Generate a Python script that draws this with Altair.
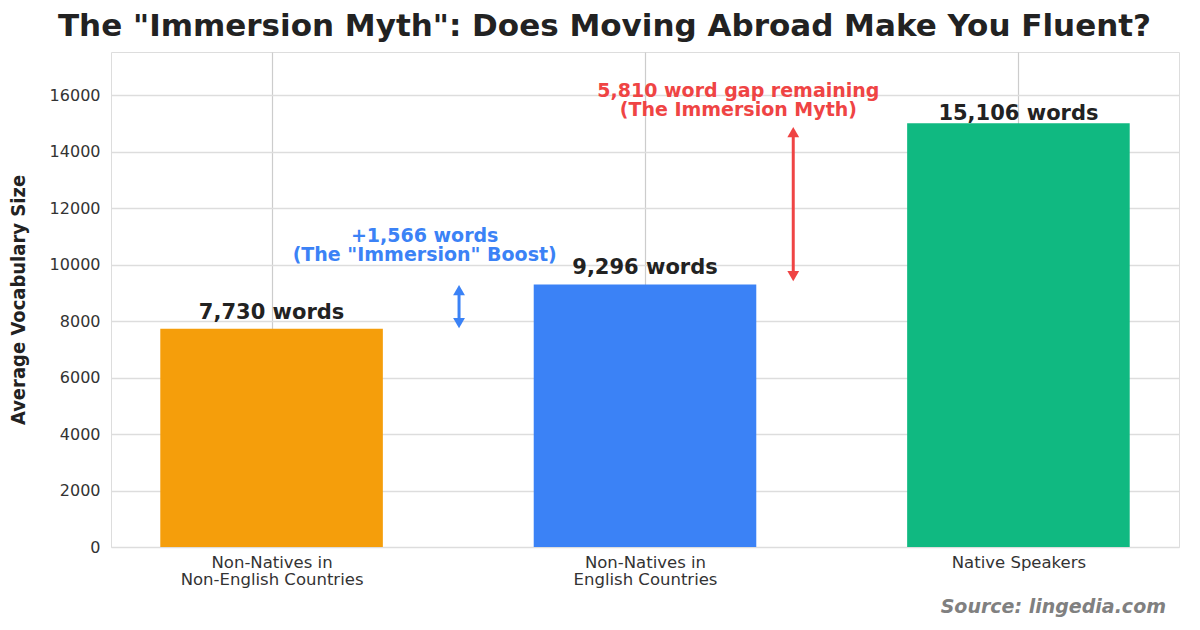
import altair as alt
import pandas as pd

positions = [0, 1, 2]
values = [7730, 9296, 15000]
label_y = [7730, 9296, 14752]
colors = ["#f59e0b", "#3b82f6", "#10b981"]
value_labels = ["7,730 words", "9,296 words", "15,106 words"]

arrow_x = [0.502, 1.397]
arrow_low = [7929, 9593]
arrow_high = [9097, 14690]
arrow_colors = ["#3b82f6", "#ef4444"]

note_lines = [["+1,566 words", "(The \"Immersion\" Boost)"], ["5,810 word gap remaining", "(The Immersion Myth)"]]
note_x = [0.41, 1.25]
note_y = [10660, 15800]

Y_MAX = 17523
FONT = "DejaVu Sans"

bars_df = pd.DataFrame({
    "x0": [p - 0.298 for p in positions],
    "x1": [p + 0.298 for p in positions],
    "pos": positions,
    "value": values,
    "label_y": label_y,
    "color": colors,
    "label": value_labels,
})
arrows_df = pd.DataFrame({"x": arrow_x, "low": arrow_low, "high": arrow_high, "color": arrow_colors})
notes_df = pd.DataFrame({"x": note_x, "y": note_y, "color": arrow_colors})
notes_df["line1"] = [n[0] for n in note_lines]
notes_df["line2"] = [n[1] for n in note_lines]

label_expr = "datum.value == 0 ? ['Non-Natives in','Non-English Countries'] : datum.value == 1 ? ['Non-Natives in','English Countries'] : 'Native Speakers'"

x_scale = alt.Scale(domain=[-0.43, 2.43], nice=False, zero=False)
y_scale = alt.Scale(domain=[0, Y_MAX], nice=False)

x_axis = alt.Axis(values=positions, labelExpr=label_expr, title=None, domain=False, ticks=False,
                  labelFont=FONT, labelFontSize=16.5, labelColor="#333333", labelPadding=7,
                  labelLineHeight=17, labelAngle=0, labelBaseline="top", labelLimit=400,
                  grid=True, gridColor="#cccccc", gridWidth=1.2, zindex=0)
y_axis = alt.Axis(values=list(range(0, 16001, 2000)), format="d", title="Average Vocabulary Size",
                  domain=False, ticks=False, labelFont=FONT, labelFontSize=16, labelColor="#333333",
                  labelPadding=11, grid=True, gridColor="#dddddd", gridWidth=1.5,
                  titleFont="DejaVu Sans Condensed", titleFontSize=20, titleFontWeight="bold",
                  titleColor="#222222", titlePadding=21, zindex=0)

bars = alt.Chart(bars_df).mark_bar(stroke=None).encode(
    x=alt.X("x0:Q", scale=x_scale, axis=x_axis),
    x2="x1:Q",
    y=alt.Y("value:Q", scale=y_scale, axis=y_axis),
    y2=alt.datum(0),
    color=alt.Color("color:N", scale=None),
)

bar_labels = alt.Chart(bars_df).mark_text(font=FONT, fontSize=21, fontWeight="bold", color="#222222",
                                          baseline="bottom", dy=-6).encode(
    x=alt.X("pos:Q", scale=x_scale), y=alt.Y("label_y:Q", scale=y_scale), text="label:N")

shafts = alt.Chart(arrows_df).mark_rule(strokeWidth=3).encode(
    x=alt.X("x:Q", scale=x_scale), y=alt.Y("low:Q", scale=y_scale), y2="high:Q",
    color=alt.Color("color:N", scale=None))
heads_up = alt.Chart(arrows_df).mark_point(shape="triangle-up", filled=True, size=140, opacity=1).encode(
    x=alt.X("x:Q", scale=x_scale), y=alt.Y("high:Q", scale=y_scale),
    color=alt.Color("color:N", scale=None))
heads_down = alt.Chart(arrows_df).mark_point(shape="triangle-down", filled=True, size=140, opacity=1).encode(
    x=alt.X("x:Q", scale=x_scale), y=alt.Y("low:Q", scale=y_scale),
    color=alt.Color("color:N", scale=None))

note_text = alt.Chart(notes_df).transform_calculate(lines="[datum.line1, datum.line2]").mark_text(
    font=FONT, fontSize=19, fontWeight="bold", lineHeight=19, baseline="bottom").encode(
    x=alt.X("x:Q", scale=x_scale), y=alt.Y("y:Q", scale=y_scale), text="lines:N",
    color=alt.Color("color:N", scale=None))

source = alt.Chart(bars_df.head(1)).mark_text(
    font=FONT, fontSize=19, fontWeight="bold", fontStyle="italic", color="#808080", align="right", baseline="middle"
).encode(x=alt.value(1055), y=alt.value(555), text=alt.value("Source: lingedia.com"))

chart = alt.layer(bars, bar_labels, shafts, heads_up, heads_down, note_text, source).properties(
    width=1068, height=495,
    title=alt.TitleParams('The "Immersion Myth": Does Moving Abroad Make You Fluent?', font=FONT,
                          fontSize=31, fontWeight="bold", color="#222222", anchor="middle", dx=-40.5, offset=9),
    padding={"left": 103, "top": 44, "right": 12, "bottom": 70},
    autosize=alt.AutoSizeParams(type="none"),
).configure_view(stroke="#cccccc", strokeWidth=1.5).configure(background="white")

chart.save("out.html", embed_options={"renderer": "svg", "actions": False})
